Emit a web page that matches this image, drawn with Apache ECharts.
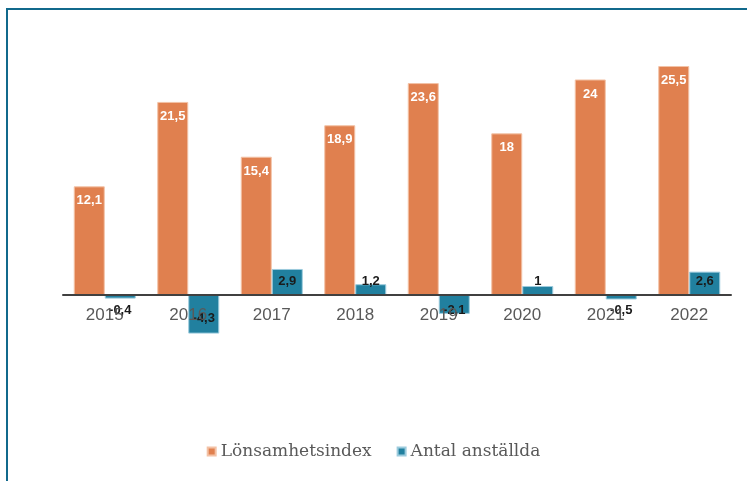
<!DOCTYPE html>
<html>
<head>
<meta charset="utf-8">
<script src="https://cdn.jsdelivr.net/npm/echarts@6/dist/echarts.min.js"></script>
<style>
html,body{margin:0;padding:0;background:#fff;}
#c{width:747px;height:481px;}
</style>
</head>
<body>
<div id="c"></div>
<script>
const years = ['2015','2016','2017','2018','2019','2020','2021','2022'];
const lonsamhetsindex = [12.1, 21.5, 15.4, 18.9, 23.6, 18, 24, 25.5];
const antalAnstallda = [-0.4, -4.3, 2.9, 1.2, -2.1, 1, -0.5, 2.6];
const seriesNames = ['Lönsamhetsindex', 'Antal anställda'];

const fmt = v => String(v).replace('.', ',');

const blueData = antalAnstallda.map(v => {
  if (v >= 0) {
    return { value: v, label: { position: 'insideBottom', distance: 7 } };
  }
  if (v < -3) {
    return { value: v, label: { position: 'inside', offset: [0, 4] } };
  }
  return { value: v, label: { position: 'insideTop', distance: 9 } };
});

const chart = echarts.init(document.getElementById('c'), null, { renderer: 'canvas' });
chart.setOption({
  animation: false,
  backgroundColor: '#ffffff',
  graphic: [{
    type: 'rect',
    shape: { x: 7, y: 9, width: 900, height: 700 },
    style: { fill: 'none', stroke: '#11698C', lineWidth: 2 },
    silent: true,
    z: 100
  }],
  grid: { left: 63, right: 16, top: 25.6, bottom: 96.2, containLabel: false },
  legend: {
    data: seriesNames,
    bottom: 16,
    left: 'center',
    icon: 'rect',
    itemWidth: 8,
    itemHeight: 8,
    itemGap: 25,
    textStyle: { fontFamily: 'DejaVu Serif', fontSize: 17, color: '#595959' }
  },
  xAxis: {
    type: 'category',
    data: years,
    z: 4,
    axisLine: { onZero: true, lineStyle: { color: '#404040', width: 2 } },
    axisTick: { show: false },
    axisLabel: { color: '#595959', fontSize: 17, fontFamily: 'Liberation Sans', margin: -78 }
  },
  yAxis: {
    type: 'value',
    min: -10,
    max: 30,
    show: false,
    splitLine: { show: false }
  },
  series: [
    {
      name: seriesNames[0],
      type: 'bar',
      data: lonsamhetsindex,
      barWidth: 31,
      barGap: '0%',
      z: 2,
      itemStyle: { color: '#E0804F', borderColor: '#F3C2A6', borderWidth: 1 },
      label: {
        show: true,
        position: 'insideTop',
        distance: 8,
        color: '#ffffff',
        fontWeight: 'bold',
        fontSize: 13,
        fontFamily: 'Liberation Sans',
        formatter: p => fmt(p.value)
      }
    },
    {
      name: seriesNames[1],
      type: 'bar',
      data: blueData,
      barWidth: 31,
      barGap: '0%',
      z: 3,
      itemStyle: { color: '#21809F', borderColor: '#9CCBDD', borderWidth: 1 },
      label: {
        show: true,
        color: '#1a1a1a',
        fontWeight: 'bold',
        fontSize: 13,
        fontFamily: 'Liberation Sans',
        formatter: p => fmt(p.value)
      }
    }
  ]
});
</script>
</body>
</html>
